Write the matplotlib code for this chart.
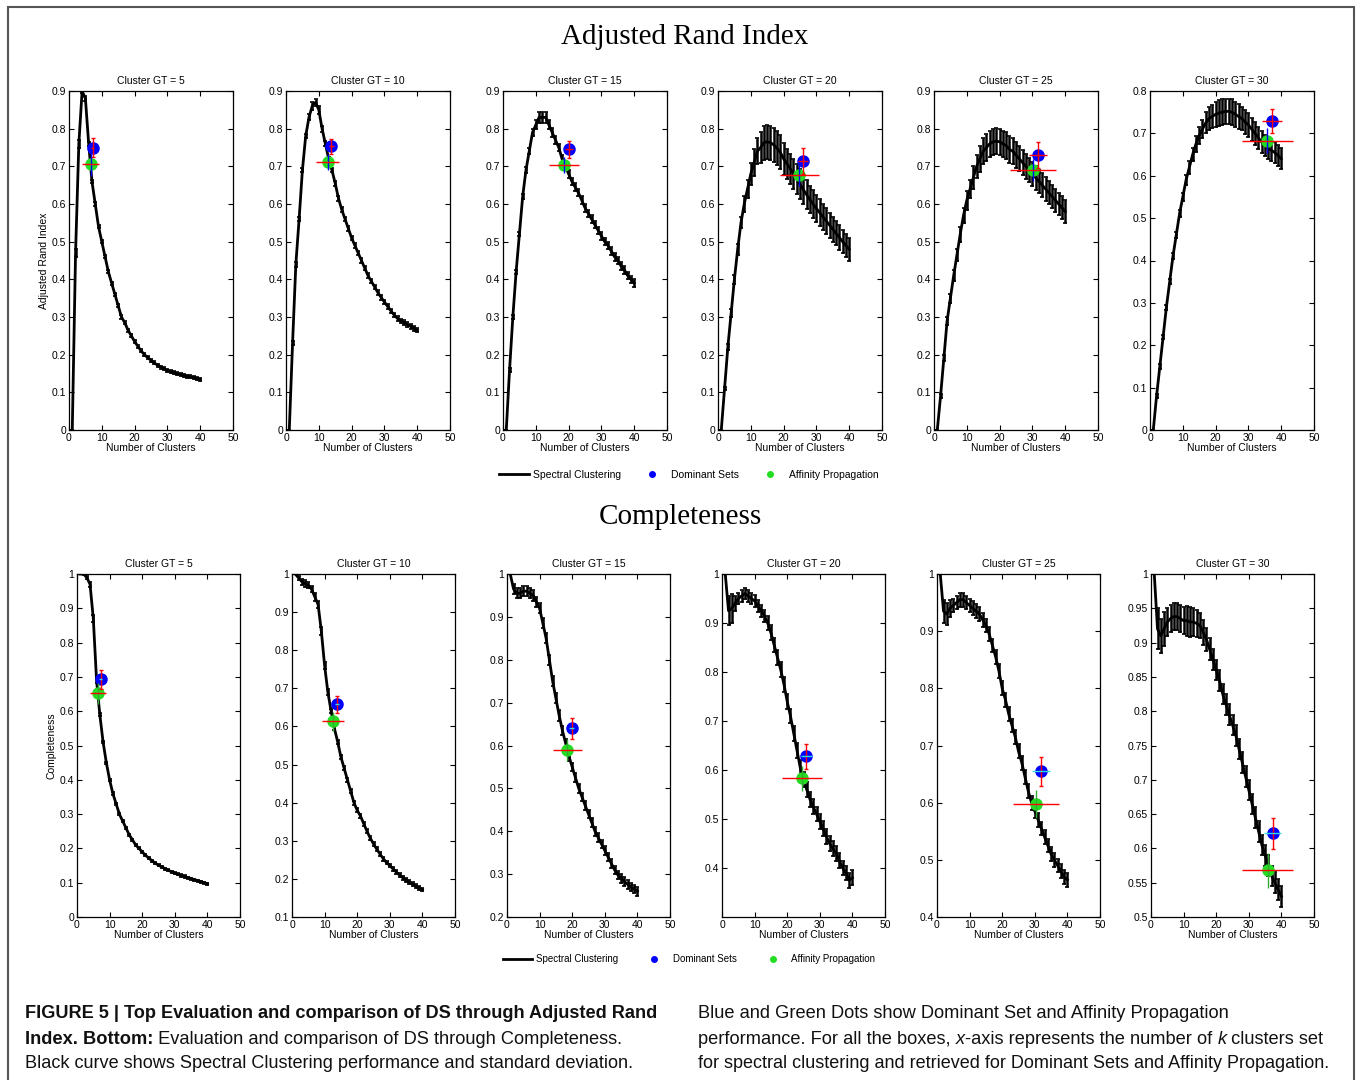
import numpy as np
import matplotlib
matplotlib.use('Agg')
import matplotlib.pyplot as plt
from matplotlib.lines import Line2D
from matplotlib.patches import Rectangle
from matplotlib.offsetbox import TextArea, HPacker, AnnotationBbox

plt.rcParams['font.family'] = ['Liberation Sans', 'DejaVu Sans']

k = np.arange(1, 41)
cluster_gt = [5, 10, 15, 20, 25, 30]

# Adjusted Rand Index, spectral clustering mean / std for k = 1..40
ari_gt5 = [0.0, 0.47, 0.76, 0.90, 0.88, 0.76, 0.66, 0.60, 0.54, 0.50, 0.46, 0.42, 0.39, 0.36,
           0.33, 0.30, 0.285, 0.265, 0.25, 0.235, 0.222, 0.21, 0.20, 0.192, 0.185, 0.178, 0.172,
           0.167, 0.162, 0.158, 0.155, 0.152, 0.149, 0.147, 0.145, 0.143, 0.141, 0.139, 0.137, 0.135]
ari_gt5_std = [0.0, 0.01, 0.01, 0.006, 0.006, 0.005, 0.005, 0.004, 0.004, 0.004, 0.004, 0.004,
               0.004, 0.004, 0.004, 0.004, 0.004, 0.004, 0.004, 0.004, 0.004, 0.004, 0.004, 0.004,
               0.004, 0.004, 0.004, 0.004, 0.004, 0.004, 0.004, 0.004, 0.004, 0.004, 0.004, 0.004,
               0.004, 0.004, 0.004, 0.004]
ari_gt10 = [0.0, 0.23, 0.44, 0.56, 0.69, 0.78, 0.83, 0.86, 0.87, 0.85, 0.80, 0.76, 0.72, 0.69,
            0.655, 0.615, 0.585, 0.56, 0.535, 0.51, 0.49, 0.47, 0.45, 0.43, 0.41, 0.395, 0.38,
            0.365, 0.352, 0.34, 0.328, 0.316, 0.305, 0.296, 0.29, 0.285, 0.28, 0.275, 0.27, 0.265]
ari_gt10_std = [0.0, 0.005, 0.006, 0.006, 0.006, 0.006, 0.008, 0.01, 0.01, 0.01, 0.008, 0.007,
                0.006, 0.006, 0.006, 0.006, 0.006, 0.006, 0.006, 0.006, 0.006, 0.006, 0.006, 0.006,
                0.006, 0.006, 0.006, 0.006, 0.006, 0.006, 0.006, 0.006, 0.006, 0.006, 0.006, 0.006,
                0.006, 0.006, 0.006, 0.006]
ari_gt15 = [0.0, 0.16, 0.30, 0.42, 0.52, 0.62, 0.69, 0.74, 0.79, 0.81, 0.83, 0.83, 0.83, 0.81,
            0.79, 0.77, 0.75, 0.72, 0.70, 0.68, 0.66, 0.645, 0.63, 0.61, 0.59, 0.575, 0.56, 0.545,
            0.53, 0.515, 0.50, 0.49, 0.475, 0.46, 0.45, 0.435, 0.425, 0.41, 0.40, 0.39]
ari_gt15_std = [0.0, 0.005, 0.006, 0.006, 0.006, 0.006, 0.007, 0.008, 0.01, 0.012, 0.015, 0.015,
                0.015, 0.012, 0.012, 0.01, 0.01, 0.01, 0.01, 0.01, 0.01, 0.01, 0.01, 0.01, 0.01,
                0.01, 0.01, 0.01, 0.01, 0.01, 0.01, 0.01, 0.01, 0.01, 0.01, 0.01, 0.01, 0.01, 0.01,
                0.01]
ari_gt20 = [0.0, 0.11, 0.22, 0.31, 0.40, 0.48, 0.55, 0.60, 0.64, 0.68, 0.71, 0.74, 0.75, 0.763,
            0.765, 0.763, 0.757, 0.748, 0.737, 0.72, 0.707, 0.694, 0.68, 0.666, 0.652, 0.638,
            0.625, 0.612, 0.60, 0.588, 0.577, 0.566, 0.555, 0.544, 0.533, 0.522, 0.511, 0.50,
            0.49, 0.48]
ari_gt20_std = [0.0, 0.005, 0.008, 0.01, 0.012, 0.015, 0.015, 0.02, 0.025, 0.03, 0.035, 0.035,
                0.04, 0.045, 0.045, 0.045, 0.045, 0.045, 0.045, 0.042, 0.04, 0.04, 0.04, 0.04,
                0.04, 0.038, 0.038, 0.036, 0.036, 0.035, 0.035, 0.034, 0.034, 0.033, 0.033, 0.032,
                0.032, 0.031, 0.031, 0.03]
ari_gt25 = [0.0, 0.09, 0.19, 0.29, 0.35, 0.41, 0.465, 0.52, 0.57, 0.61, 0.64, 0.67, 0.70, 0.72,
            0.74, 0.75, 0.76, 0.765, 0.767, 0.765, 0.76, 0.755, 0.745, 0.74, 0.73, 0.72, 0.71,
            0.70, 0.69, 0.68, 0.67, 0.66, 0.65, 0.64, 0.63, 0.62, 0.61, 0.60, 0.59, 0.58]
ari_gt25_std = [0.0, 0.005, 0.008, 0.01, 0.012, 0.015, 0.015, 0.02, 0.02, 0.025, 0.025, 0.03,
                0.03, 0.035, 0.035, 0.035, 0.035, 0.035, 0.035, 0.035, 0.035, 0.035, 0.035, 0.035,
                0.035, 0.033, 0.033, 0.033, 0.032, 0.032, 0.032, 0.031, 0.031, 0.031, 0.03, 0.03,
                0.03, 0.03, 0.03, 0.03]
ari_gt30 = [0.0, 0.08, 0.15, 0.22, 0.29, 0.35, 0.41, 0.46, 0.51, 0.55, 0.59, 0.62, 0.65, 0.675,
            0.695, 0.71, 0.725, 0.735, 0.74, 0.745, 0.748, 0.75, 0.752, 0.752, 0.75, 0.745, 0.74,
            0.735, 0.727, 0.72, 0.71, 0.70, 0.69, 0.68, 0.672, 0.665, 0.66, 0.655, 0.648, 0.64]
ari_gt30_std = [0.0, 0.005, 0.005, 0.005, 0.006, 0.006, 0.007, 0.008, 0.008, 0.01, 0.012, 0.015,
                0.015, 0.018, 0.02, 0.022, 0.025, 0.027, 0.028, 0.03, 0.03, 0.03, 0.03, 0.03, 0.03,
                0.03, 0.03, 0.028, 0.028, 0.028, 0.027, 0.027, 0.026, 0.026, 0.025, 0.025, 0.025,
                0.025, 0.025, 0.025]

# Completeness, spectral clustering mean / std for k = 1..40
comp_gt5 = [1.0, 1.0, 0.99, 0.97, 0.87, 0.69, 0.59, 0.51, 0.45, 0.40, 0.36, 0.33, 0.30, 0.28,
            0.26, 0.24, 0.225, 0.21, 0.20, 0.19, 0.18, 0.172, 0.164, 0.157, 0.151, 0.146, 0.141,
            0.136, 0.132, 0.128, 0.124, 0.121, 0.118, 0.115, 0.112, 0.109, 0.106, 0.103, 0.10,
            0.097]
comp_gt5_std = [0.0, 0.003, 0.005, 0.008, 0.01, 0.008, 0.005, 0.004, 0.003, 0.003, 0.003, 0.003,
                0.003, 0.003, 0.003, 0.003, 0.003, 0.003, 0.003, 0.003, 0.003, 0.003, 0.003, 0.003,
                0.003, 0.003, 0.003, 0.003, 0.003, 0.003, 0.003, 0.003, 0.003, 0.003, 0.003, 0.003,
                0.003, 0.003, 0.003, 0.003]
comp_gt10 = [1.0, 0.99, 0.98, 0.975, 0.97, 0.96, 0.94, 0.92, 0.85, 0.76, 0.69, 0.64, 0.595, 0.56,
             0.52, 0.49, 0.46, 0.43, 0.40, 0.38, 0.365, 0.345, 0.325, 0.307, 0.292, 0.278, 0.265,
             0.253, 0.243, 0.235, 0.226, 0.218, 0.21, 0.203, 0.197, 0.191, 0.186, 0.181, 0.176,
             0.172]
comp_gt10_std = [0.0, 0.005, 0.008, 0.008, 0.008, 0.008, 0.01, 0.01, 0.01, 0.008, 0.008, 0.006,
                 0.005, 0.005, 0.005, 0.005, 0.005, 0.005, 0.005, 0.005, 0.005, 0.005, 0.005, 0.005,
                 0.005, 0.005, 0.005, 0.005, 0.005, 0.005, 0.005, 0.005, 0.005, 0.005, 0.005, 0.005,
                 0.005, 0.005, 0.005, 0.005]
comp_gt15 = [1.0, 0.965, 0.955, 0.955, 0.96, 0.96, 0.955, 0.95, 0.935, 0.92, 0.885, 0.85, 0.80,
             0.75, 0.71, 0.67, 0.635, 0.605, 0.575, 0.55, 0.525, 0.50, 0.48, 0.46, 0.44, 0.42,
             0.40, 0.385, 0.37, 0.355, 0.34, 0.325, 0.31, 0.298, 0.29, 0.283, 0.276, 0.27, 0.265,
             0.26]
comp_gt15_std = [0.0, 0.012, 0.012, 0.012, 0.012, 0.012, 0.012, 0.012, 0.012, 0.012, 0.012,
                 0.012, 0.012, 0.012, 0.012, 0.012, 0.01, 0.01, 0.01, 0.01, 0.01, 0.01, 0.01, 0.01,
                 0.01, 0.01, 0.01, 0.01, 0.01, 0.01, 0.01, 0.01, 0.01, 0.01, 0.01, 0.01, 0.01, 0.01,
                 0.01, 0.01]
comp_gt20 = [1.0, 0.925, 0.93, 0.94, 0.95, 0.955, 0.96, 0.955, 0.95, 0.945, 0.935, 0.925, 0.915,
             0.90, 0.88, 0.855, 0.83, 0.805, 0.775, 0.74, 0.71, 0.675, 0.64, 0.605, 0.58, 0.56,
             0.54, 0.525, 0.51, 0.495, 0.48, 0.465, 0.45, 0.44, 0.43, 0.415, 0.40, 0.39, 0.375,
             0.38]
comp_gt20_std = [0.0, 0.03, 0.03, 0.015, 0.012, 0.012, 0.012, 0.012, 0.012, 0.012, 0.012, 0.012,
                 0.012, 0.015, 0.015, 0.015, 0.015, 0.015, 0.015, 0.015, 0.015, 0.015, 0.015,
                 0.015, 0.015, 0.015, 0.015, 0.015, 0.015, 0.015, 0.015, 0.015, 0.015, 0.015,
                 0.015, 0.015, 0.015, 0.015, 0.015, 0.015]
comp_gt25 = [1.0, 0.935, 0.93, 0.94, 0.945, 0.95, 0.955, 0.955, 0.95, 0.945, 0.94, 0.935, 0.93,
             0.92, 0.91, 0.895, 0.875, 0.855, 0.83, 0.80, 0.78, 0.755, 0.735, 0.715, 0.69, 0.67,
             0.645, 0.62, 0.60, 0.585, 0.57, 0.555, 0.54, 0.525, 0.51, 0.50, 0.49, 0.48, 0.47,
             0.465]
comp_gt25_std = [0.0, 0.02, 0.02, 0.015, 0.012, 0.012, 0.012, 0.012, 0.012, 0.012, 0.012, 0.012,
                 0.012, 0.012, 0.012, 0.012, 0.012, 0.012, 0.012, 0.012, 0.012, 0.012, 0.012,
                 0.012, 0.012, 0.012, 0.012, 0.012, 0.012, 0.012, 0.012, 0.012, 0.012, 0.012,
                 0.012, 0.012, 0.012, 0.012, 0.012, 0.012]
comp_gt30 = [1.0, 0.92, 0.91, 0.92, 0.93, 0.935, 0.938, 0.938, 0.935, 0.932, 0.932, 0.93, 0.93,
             0.928, 0.925, 0.915, 0.905, 0.89, 0.875, 0.86, 0.845, 0.825, 0.81, 0.795, 0.78,
             0.765, 0.745, 0.725, 0.705, 0.685, 0.665, 0.645, 0.625, 0.605, 0.59, 0.575, 0.56,
             0.55, 0.54, 0.53]
comp_gt30_std = [0.0, 0.03, 0.025, 0.025, 0.02, 0.02, 0.02, 0.02, 0.02, 0.02, 0.022, 0.022,
                 0.02, 0.02, 0.018, 0.018, 0.017, 0.016, 0.015, 0.015, 0.015, 0.015, 0.015, 0.015,
                 0.015, 0.015, 0.015, 0.015, 0.015, 0.015, 0.015, 0.015, 0.015, 0.015, 0.015, 0.015,
                 0.015, 0.015, 0.015, 0.015]

# Dominant Sets / Affinity Propagation results: (k, value, k std, value std)
ds_ari = [(7.2, 0.750, 0.5, 0.025), (13.8, 0.753, 0.8, 0.02), (20.0, 0.745, 1.2, 0.022),
          (26.0, 0.715, 1.5, 0.035), (31.7, 0.730, 2.8, 0.035), (37.2, 0.730, 3.0, 0.028)]
ap_ari = [(6.6, 0.705, 2.5, 0.03), (12.7, 0.712, 3.5, 0.022), (18.6, 0.703, 4.6, 0.022),
          (24.8, 0.677, 6.0, 0.03), (30.3, 0.690, 7.0, 0.03), (35.8, 0.683, 7.8, 0.03)]
ds_comp = [(7.3, 0.693, 0.4, 0.028), (13.8, 0.658, 0.5, 0.022), (19.9, 0.640, 0.8, 0.025),
           (25.9, 0.628, 1.6, 0.025), (31.8, 0.655, 2.8, 0.025), (37.3, 0.622, 2.5, 0.023)]
ap_comp = [(6.5, 0.652, 2.5, 0.03), (12.6, 0.613, 3.5, 0.025), (18.5, 0.590, 4.5, 0.025),
           (24.6, 0.583, 6.2, 0.025), (30.4, 0.598, 7.0, 0.025), (35.8, 0.568, 7.8, 0.025)]

ari_means = [ari_gt5, ari_gt10, ari_gt15, ari_gt20, ari_gt25, ari_gt30]
ari_stds = [ari_gt5_std, ari_gt10_std, ari_gt15_std, ari_gt20_std, ari_gt25_std, ari_gt30_std]
comp_means = [comp_gt5, comp_gt10, comp_gt15, comp_gt20, comp_gt25, comp_gt30]
comp_stds = [comp_gt5_std, comp_gt10_std, comp_gt15_std, comp_gt20_std, comp_gt25_std,
             comp_gt30_std]

W, H = 1357, 1080
fig = plt.figure(figsize=(W / 100, H / 100), dpi=100)


def px_axes(left, top, right, bottom):
    return fig.add_axes([left / W, 1 - bottom / H, (right - left) / W, (bottom - top) / H])


def draw_panel(ax, gt, mean, std, ds, ap, ylim, yticks, ds_hcol, ap_vcol):
    ax.errorbar(k, mean, yerr=std, color='black', lw=2.0, elinewidth=1.8,
                capsize=1.6, capthick=1.2, zorder=2)
    ax.plot(ds[0], ds[1], 'o', color='blue', ms=8, zorder=3)
    ax.errorbar(ds[0], ds[1], yerr=ds[3], fmt='none', ecolor='red', elinewidth=1.0,
                capsize=1.2, zorder=4)
    ax.errorbar(ds[0], ds[1], xerr=ds[2], fmt='none', ecolor=ds_hcol, elinewidth=1.0, zorder=4)
    ax.plot(ap[0], ap[1], 'o', color='#22dd22', ms=8, zorder=3)
    ax.errorbar(ap[0], ap[1], yerr=ap[3], fmt='none', ecolor=ap_vcol, elinewidth=1.0, zorder=4)
    ax.errorbar(ap[0], ap[1], xerr=ap[2], fmt='none', ecolor='red', elinewidth=1.0, zorder=4)

    ax.set_xlim(0, 50)
    ax.set_xticks(range(0, 51, 10))
    ax.set_ylim(ylim)
    ax.set_yticks(yticks)
    ax.set_yticklabels(['%g' % round(v, 2) for v in yticks])
    ax.tick_params(direction='in', top=True, right=True, length=3.5, width=0.8,
                   labelsize=7.5, pad=2)
    for s in ax.spines.values():
        s.set_linewidth(0.9)
    ax.set_title('Cluster GT = %d' % gt, fontsize=7.5, pad=5)
    ax.set_xlabel('Number of Clusters', fontsize=7.5, labelpad=0)


top_lefts = [69, 286, 503, 718, 934, 1150]
bot_lefts = [77, 292, 507, 722, 937, 1151]

for i, gt in enumerate(cluster_gt):
    ax = px_axes(top_lefts[i], 91, top_lefts[i] + 164, 430)
    if gt == 30:
        ylim, yt = (0, 0.8), np.arange(0, 0.81, 0.1)
    else:
        ylim, yt = (0, 0.9), np.arange(0, 0.91, 0.1)
    draw_panel(ax, gt, ari_means[i], ari_stds[i], ds_ari[i], ap_ari[i], ylim, yt, 'red', 'blue')
    if i == 0:
        ax.set_ylabel('Adjusted Rand Index', fontsize=7.5, labelpad=2)

comp_lims = [(0, 1), (0.1, 1), (0.2, 1), (0.3, 1), (0.4, 1), (0.5, 1)]
for i, gt in enumerate(cluster_gt):
    ax = px_axes(bot_lefts[i], 574, bot_lefts[i] + 163, 917)
    lo, hi = comp_lims[i]
    if gt == 30:
        yt = np.arange(0.5, 1.001, 0.05)
    elif gt == 20:
        yt = np.arange(0.4, 1.001, 0.1)
    else:
        yt = np.arange(lo, 1.001, 0.1)
    draw_panel(ax, gt, comp_means[i], comp_stds[i], ds_comp[i], ap_comp[i], (lo, hi), yt,
               '#33dddd', '#33aa33')
    if i == 0:
        ax.set_ylabel('Completeness', fontsize=7.5, labelpad=2)

serif = ['Liberation Serif', 'DejaVu Serif']
fig.text(685 / W, 1 - 37 / H, 'Adjusted Rand Index', family=serif, fontsize=21,
         ha='center', va='center')
fig.text(680 / W, 1 - 517 / H, 'Completeness', family=serif, fontsize=21,
         ha='center', va='center')

handles = [Line2D([], [], color='black', lw=2),
           Line2D([], [], marker='o', ls='none', color='blue', ms=4),
           Line2D([], [], marker='o', ls='none', color='#22dd22', ms=4)]
labels = ['Spectral Clustering', 'Dominant Sets', 'Affinity Propagation']
fig.legend(handles, labels, loc='center', bbox_to_anchor=(689 / W, 1 - 475 / H), ncol=3,
           frameon=False, fontsize=7.5, handlelength=2.9, handletextpad=0.4, columnspacing=1.5)
fig.legend(handles, labels, loc='center', bbox_to_anchor=(689 / W, 1 - 959 / H), ncol=3,
           frameon=False, fontsize=7, handlelength=3.0, handletextpad=0.4, columnspacing=2.2)

# caption: each line is scaled so it ends where the printed one ends
cap_font = ['Liberation Sans', 'DejaVu Sans']
renderer = fig.canvas.get_renderer()


def part_props(style, size):
    props = dict(family=cap_font, size=size, color='#111111')
    if style == 'b':
        props['weight'] = 'bold'
    elif style == 'i':
        props['style'] = 'italic'
    return props


def caption_line(x, x_end, y, parts):
    width = 0
    for txt, style in parts:
        t = fig.text(0, 0, txt.replace(' ', '\u00a0'), **part_props(style, 14))
        width += t.get_window_extent(renderer).width
        t.remove()
    size = 14 * (x_end - x) / width
    areas = [TextArea(txt, textprops=part_props(style, size)) for txt, style in parts]
    box = HPacker(children=areas, align='baseline', pad=0, sep=0)
    ab = AnnotationBbox(box, (x / W, 1 - y / H), xycoords='figure fraction',
                        box_alignment=(0, 0.5), frameon=False, pad=0)
    fig.add_artist(ab)


caption_line(25, 660, 1013,
             [('FIGURE 5 | Top Evaluation and comparison of DS through Adjusted Rand', 'b')])
caption_line(25, 627, 1039, [('Index. Bottom:', 'b'),
                             (' Evaluation and comparison of DS through Completeness.', 'n')])
caption_line(25, 640, 1064,
             [('Black curve shows Spectral Clustering performance and standard deviation.', 'n')])
caption_line(698, 1235, 1013,
             [('Blue and Green Dots show Dominant Set and Affinity Propagation', 'n')])
caption_line(698, 1329, 1039, [('performance. For all the boxes, ', 'n'), ('x', 'i'),
                               ('-axis represents the number of ', 'n'), ('k', 'i'),
                               (' clusters set', 'n')])
caption_line(698, 1336, 1064,
             [('for spectral clustering and retrieved for Dominant Sets and Affinity Propagation.', 'n')])

fig.add_artist(Rectangle((8 / W, -0.05), (1354 - 8) / W, 1.05 - 7 / H,
                         transform=fig.transFigure, fill=False, edgecolor='#555555',
                         lw=1.5, clip_on=False))

fig.savefig('out.png', dpi=100)
